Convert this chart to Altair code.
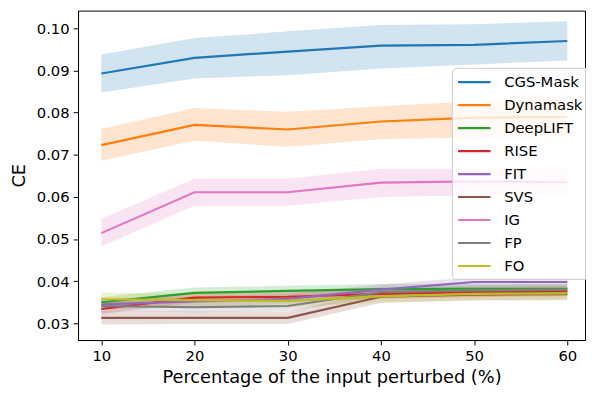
import altair as alt
import pandas as pd

x_vals = [10, 20, 30, 40, 50, 60]
methods = ["CGS-Mask", "Dynamask", "DeepLIFT", "RISE", "FIT", "SVS", "IG", "FP", "FO"]
colors = ["#1f77b4", "#ff7f0e", "#2ca02c", "#d62728", "#9467bd",
          "#8c564b", "#e377c2", "#7f7f7f", "#bcbd22"]

cgs_mean = [0.0893, 0.0930, 0.0945, 0.0959, 0.0961, 0.0970]
cgs_lo = [0.0848, 0.0881, 0.0889, 0.0905, 0.0914, 0.0924]
cgs_hi = [0.0938, 0.0977, 0.0993, 0.1008, 0.1010, 0.1017]

dyn_mean = [0.0723, 0.0771, 0.0760, 0.0779, 0.0788, 0.0790]
dyn_lo = [0.0686, 0.0733, 0.0719, 0.0737, 0.0741, 0.0742]
dyn_hi = [0.0762, 0.0811, 0.0802, 0.0815, 0.0827, 0.0833]

deeplift_mean = [0.0350, 0.0372, 0.0377, 0.0381, 0.0382, 0.0382]
deeplift_lo = [0.0338, 0.0359, 0.0365, 0.0369, 0.0370, 0.0370]
deeplift_hi = [0.0362, 0.0385, 0.0389, 0.0393, 0.0394, 0.0394]

rise_mean = [0.0334, 0.0361, 0.0363, 0.0370, 0.0374, 0.0376]
rise_lo = [0.0322, 0.0349, 0.0351, 0.0358, 0.0362, 0.0364]
rise_hi = [0.0346, 0.0373, 0.0375, 0.0382, 0.0386, 0.0388]

fit_mean = [0.0345, 0.0352, 0.0358, 0.0380, 0.0398, 0.0398]
fit_lo = [0.0333, 0.0340, 0.0346, 0.0368, 0.0386, 0.0386]
fit_hi = [0.0357, 0.0364, 0.0370, 0.0392, 0.0410, 0.0410]

svs_mean = [0.0313, 0.0313, 0.0313, 0.0363, 0.0368, 0.0369]
svs_lo = [0.0297, 0.0298, 0.0298, 0.0349, 0.0354, 0.0355]
svs_hi = [0.0329, 0.0328, 0.0328, 0.0377, 0.0382, 0.0383]

ig_mean = [0.0514, 0.0611, 0.0611, 0.0634, 0.0637, 0.0635]
ig_lo = [0.0482, 0.0579, 0.0579, 0.0600, 0.0604, 0.0604]
ig_hi = [0.0548, 0.0643, 0.0643, 0.0667, 0.0667, 0.0667]

fp_mean = [0.0341, 0.0338, 0.0341, 0.0374, 0.0378, 0.0380]
fp_lo = [0.0329, 0.0326, 0.0329, 0.0362, 0.0366, 0.0368]
fp_hi = [0.0353, 0.0350, 0.0353, 0.0386, 0.0390, 0.0392]

fo_mean = [0.0357, 0.0355, 0.0353, 0.0364, 0.0370, 0.0371]
fo_lo = [0.0342, 0.0340, 0.0338, 0.0349, 0.0355, 0.0356]
fo_hi = [0.0373, 0.0370, 0.0368, 0.0379, 0.0385, 0.0386]

series = {
    "CGS-Mask": (cgs_mean, cgs_lo, cgs_hi),
    "Dynamask": (dyn_mean, dyn_lo, dyn_hi),
    "DeepLIFT": (deeplift_mean, deeplift_lo, deeplift_hi),
    "RISE": (rise_mean, rise_lo, rise_hi),
    "FIT": (fit_mean, fit_lo, fit_hi),
    "SVS": (svs_mean, svs_lo, svs_hi),
    "IG": (ig_mean, ig_lo, ig_hi),
    "FP": (fp_mean, fp_lo, fp_hi),
    "FO": (fo_mean, fo_lo, fo_hi),
}

rows = []
for order, m in enumerate(methods):
    mean, lo, hi = series[m]
    for i, xv in enumerate(x_vals):
        rows.append({"x": xv, "method": m, "band": m, "mean": mean[i], "lo": lo[i],
                     "hi": hi[i], "order": order})
df = pd.DataFrame(rows)

xscale = alt.Scale(domain=[7.5, 61.9], nice=False, zero=False)
yscale = alt.Scale(domain=[0.02602, 0.10422], nice=False, zero=False)

x_enc = alt.X("x:Q", scale=xscale,
              axis=alt.Axis(values=x_vals, format="d",
                            title="Percentage of the input perturbed (%)"))
y_enc = alt.Y("mean:Q", scale=yscale,
              axis=alt.Axis(values=[0.03, 0.04, 0.05, 0.06, 0.07, 0.08, 0.09, 0.10],
                            format=".2f", title="CE"))

base = alt.Chart(df)

bands = base.mark_area(opacity=0.2).encode(
    x=x_enc,
    y=alt.Y("lo:Q", scale=yscale),
    y2="hi:Q",
    fill=alt.Fill("band:N", scale=alt.Scale(domain=methods, range=colors), legend=None),
    order="order:Q",
)

lines = base.mark_line(strokeWidth=2.2).encode(
    x=x_enc,
    y=y_enc,
    stroke=alt.Stroke("method:N", scale=alt.Scale(domain=methods, range=colors),
                      legend=alt.Legend(
                          title=None, orient="none", legendX=379, legendY=58,
                          symbolType="M-1,0H3", symbolSize=272, symbolStrokeWidth=2.2,
                          labelFontSize=15, labelFont="DejaVu Sans", labelColor="black",
                          labelOffset=29, rowPadding=5.3, padding=5,
                          fillColor="rgba(255,255,255,0.8)", strokeColor="#cccccc",
                          cornerRadius=4)),
    order="order:Q",
)

chart = alt.layer(bands, lines).resolve_scale(fill="independent", stroke="independent").properties(
    width=514, height=334,
    autosize=alt.AutoSizeParams(type="none"),
    padding={"left": 71, "top": 0, "right": 1, "bottom": 48},
).configure_view(
    stroke="black", strokeWidth=1
).configure_axis(
    grid=False,
    labelFont="DejaVu Sans", labelFontSize=15, labelColor="black",
    titleFont="DejaVu Sans", titleFontSize=18, titleFontWeight="normal",
    titleColor="black", tickColor="black", domainColor="black",
    tickSize=5, labelPadding=4, domainWidth=1, tickWidth=1,
).configure_axisY(titlePadding=8).configure_axisX(titlePadding=5)

chart.save("out.html", embed_options={"renderer": "svg", "actions": False})
